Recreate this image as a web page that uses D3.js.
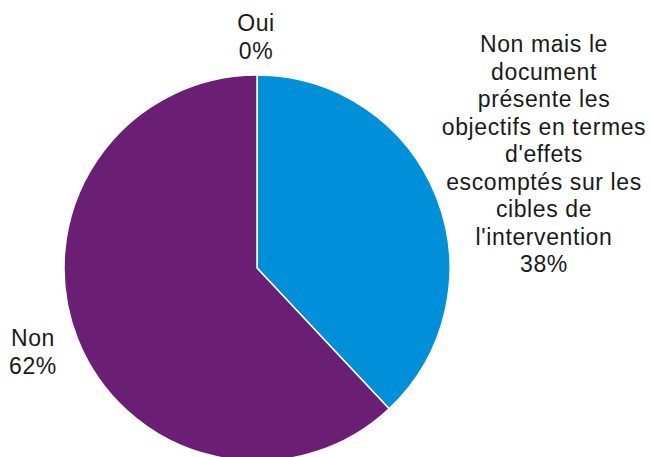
<!DOCTYPE html>
<html>
<head>
<meta charset="utf-8">
<script src="https://cdn.jsdelivr.net/npm/d3@7"></script>
<style>
  html, body { margin: 0; padding: 0; background: #fff; }
  svg text { font-family: "Liberation Sans", Arial, sans-serif; fill: #1a1a1a; letter-spacing: 0.6px; }
</style>
</head>
<body>
<svg id="chart" width="652" height="457"></svg>
<script>
// Slice categories, shares (%) and colours, in drawing order (clockwise from 12 o'clock)
const categories = [
  "Oui",
  "Non mais le document présente les objectifs en termes d'effets escomptés sur les cibles de l'intervention",
  "Non"
];
const values = [0, 38, 62];
const colors = ["#9BBB59", "#0090D9", "#6A1F74"];

// Label lines for each slice (last line is the percentage)
const labelLines = [
  ["Oui"],
  ["Non mais le", "document", "présente les", "objectifs en termes", "d'effets", "escomptés sur les", "cibles de", "l'intervention"],
  ["Non"]
];
// Label anchor positions (centre x, first baseline y)
const labelPos = [
  { x: 256, y: 31 },
  { x: 544, y: 52 },
  { x: 33, y: 346 }
];

const svg = d3.select("#chart");
const cx = 257, cy = 268, r = 193;
const lineH = 27.5;

const pie = d3.pie().sort(null).value(d => d)(values);
const arc = d3.arc().innerRadius(0).outerRadius(r);

const g = svg.append("g").attr("transform", `translate(${cx},${cy})`);
g.selectAll("path")
  .data(pie)
  .join("path")
  .attr("d", arc)
  .attr("fill", (d, i) => colors[i])
  .attr("stroke", "#fff")
  .attr("stroke-width", 1.5)
  .attr("stroke-linejoin", "round");

// Labels: category lines followed by the percentage
labelLines.forEach((lines, i) => {
  const all = lines.concat([values[i] + "%"]);
  const t = svg.append("text")
    .attr("text-anchor", "middle")
    .attr("font-size", 23);
  all.forEach((s, k) => {
    t.append("tspan")
      .attr("x", labelPos[i].x)
      .attr("y", labelPos[i].y + k * lineH)
      .text(s);
  });
});
</script>
</body>
</html>
